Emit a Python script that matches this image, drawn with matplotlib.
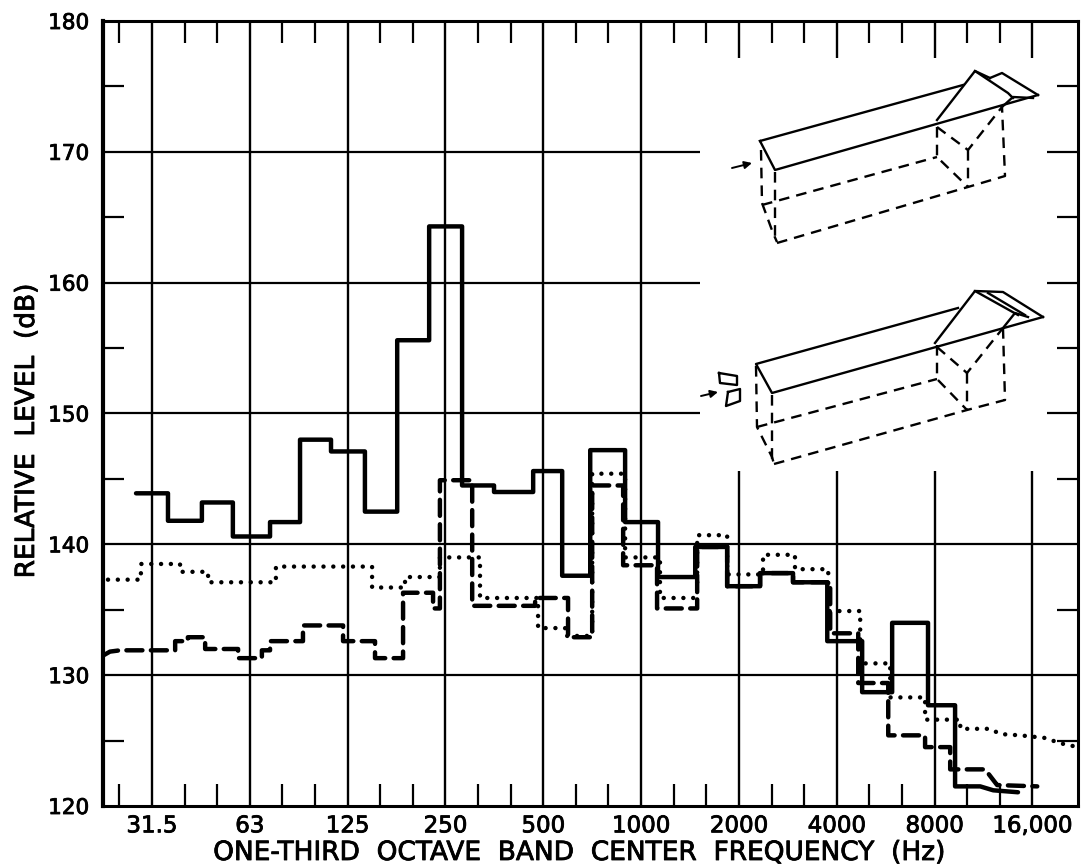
import numpy as np
import matplotlib
matplotlib.use('Agg')
import matplotlib.pyplot as plt
import matplotlib.patheffects as pe

# Полосы нумеруются от 31.5 Гц (индекс 0), три полосы на октаву
band_labels = ['31.5', '63', '125', '250', '500', '1000', '2000', '4000', '8000', '16,000']
band_ticks = [0, 3, 6, 9, 12, 15, 18, 21, 24, 27]
db_ticks = [120, 130, 140, 150, 160, 170, 180]

# Сплошная кривая
solid_edges = [-0.49, 0.49, 1.53, 2.48, 3.62, 4.54, 5.49, 6.53, 7.52, 8.50, 9.51, 10.49, 11.69, 12.58,
               13.44, 14.51, 15.52, 16.66, 17.64, 18.65, 19.66, 20.71, 21.78, 22.70, 23.80, 24.63, 25.4]
solid_levels = [143.9, 141.8, 143.2, 140.6, 141.7, 148.0, 147.1, 142.5, 155.6, 164.3, 144.5, 144.0, 145.6,
                137.6, 147.2, 141.7, 137.5, 139.8, 136.8, 137.8, 137.1, 132.6, 128.7, 134.0, 127.7, 121.5]
solid_tail_x = [25.8, 26.56]
solid_tail_y = [121.2, 121.05]

# Штриховая кривая
dash_lead_x = [-1.50, -1.29]
dash_lead_y = [131.5, 131.8]
dash_edges = [-0.98, 0.71, 1.10, 1.63, 2.64, 3.37, 3.62, 4.63, 5.86, 6.84, 7.70, 8.62, 8.83, 9.82, 11.75,
              12.76, 13.50, 14.45, 15.49, 16.72, 17.64, 18.65, 19.66, 20.80, 21.66, 22.58, 23.71, 24.48, 25.55]
dash_levels = [131.9, 132.6, 132.9, 132.0, 131.3, 131.9, 132.6, 133.8, 132.6, 131.3, 136.3, 135.1, 144.9,
               135.3, 135.9, 132.9, 144.5, 138.4, 135.1, 139.8, 136.8, 137.8, 137.1, 133.2, 129.4, 125.4,
               124.5, 122.8]
dash_tail_x = [25.92, 27.15]
dash_tail_y = [121.6, 121.5]

# Точечная кривая
dot_edges = [-1.35, -0.34, 0.86, 1.72, 3.80, 6.75, 7.76, 8.83, 10.06, 11.84, 12.67, 13.50, 14.51, 15.58,
             16.72, 17.64, 18.74, 19.72, 20.74, 21.72, 22.64, 23.71, 24.79]
dot_levels = [137.3, 138.5, 137.9, 137.1, 138.3, 136.7, 137.5, 139.0, 135.9, 133.6, 133.0, 145.4, 139.0,
              135.9, 140.7, 137.7, 139.2, 138.1, 134.9, 130.9, 128.3, 126.6]
dot_tail_x = [24.79, 25.71, 26.01, 26.63, 27.39, 27.85, 28.40]
dot_tail_y = [125.9, 125.9, 125.5, 125.4, 125.2, 124.8, 124.5]


def steps(edges, levels):
    # ступенчатая линия по границам полос
    x = np.repeat(edges, 2)[1:-1]
    y = np.repeat(levels, 2)
    return x, y


# Схема модели, в пикселях картинки
top_solid = [
    [(760, 141), (775, 170), (1038, 95)],
    [(760, 141), (963, 85)],
    [(937, 120), (975, 71), (1008, 93), (1013, 98)],
    [(990, 78), (1002, 73), (1038, 95)],
    [(975, 71), (990, 78)],
    [(1002, 107), (1013, 97), (1033, 98)],
]
top_dashed = [
    [(761, 150), (762, 203), (773, 233), (777, 242)],
    [(775, 172), (775, 242)],
    [(762, 205), (937, 157)],
    [(777, 243), (968, 187), (1005, 176), (1002, 107)],
    [(937, 127), (937, 157), (968, 187)],
    [(937, 127), (968, 150), (1002, 107)],
    [(968, 150), (968, 187)],
]
bottom_solid = [
    [(958, 308), (756, 364), (772, 393), (1043, 317)],
    [(935, 343), (975, 291), (1018, 315)],
    [(975, 291), (1003, 292), (1043, 317)],
    [(988, 293), (1025, 315)],
    [(1003, 328), (1015, 313), (1028, 317)],
    [(719, 373), (737, 376), (737, 385), (720, 383), (719, 373)],
    [(728, 392), (740, 389), (740, 401), (726, 406), (728, 392)],
]
bottom_dashed = [
    [(756, 366), (757, 427), (772, 457), (774, 464)],
    [(772, 395), (772, 460)],
    [(757, 427), (937, 379)],
    [(774, 464), (967, 410), (1005, 400), (1003, 328)],
    [(937, 345), (937, 379), (967, 410)],
    [(937, 347), (967, 373), (1003, 328)],
    [(967, 373), (967, 410)],
]
arrows = [[(732, 168), (752, 163)], [(701, 396), (718, 392)]]

fig = plt.figure(figsize=(10.82, 8.65), dpi=100)
ax = fig.add_axes([103 / 1082, 1 - 806 / 865, 975 / 1082, 785 / 865])
x0, x1 = -1.503, 28.40
ax.set_xlim(x0, x1)
ax.set_ylim(120, 180)

# Сетка: верхняя часть справа оставлена под схему
for b in band_ticks:
    if b <= 15:
        ax.vlines(b, 120, 180, color='black', lw=1.7)
    else:
        ax.vlines(b, 120, 145.6, color='black', lw=1.7)
        ax.vlines(b, 177.2, 180, color='black', lw=1.7)
for d in [130, 140]:
    ax.hlines(d, x0, x1, color='black', lw=1.6)
for d in [150, 160, 170]:
    ax.hlines(d, x0, 16.8, color='black', lw=1.6)
    ax.hlines(d, 27.45, x1, color='black', lw=1.6)

x, y = steps(solid_edges, solid_levels)
ax.plot(np.r_[x, solid_tail_x], np.r_[y, solid_tail_y], color='black', lw=3.2,
        solid_joinstyle='round', solid_capstyle='round')
x, y = steps(dash_edges, dash_levels)
ax.plot(np.r_[dash_lead_x, x, dash_tail_x], np.r_[dash_lead_y, y, dash_tail_y], color='black', lw=3.2,
        linestyle=(0, (3.6, 1.9)), dash_joinstyle='round', dash_capstyle='round')
x, y = steps(dot_edges, dot_levels)
ax.plot(np.r_[x, dot_tail_x], np.r_[y, dot_tail_y], color='black', lw=3.2,
        linestyle=(0, (0.01, 2.2)), dash_capstyle='round')

bold = [pe.withStroke(linewidth=0.6, foreground='black')]
ax.set_xticks(band_ticks)
ax.set_xticklabels(band_labels, fontsize=16.5, path_effects=bold)
ax.set_yticks(db_ticks)
ax.set_yticklabels([str(d) for d in db_ticks], fontsize=15.5, path_effects=bold)
minor_x = [b for b in range(-1, 28) if b not in band_ticks]
ax.set_xticks(minor_x, minor=True)
ax.set_yticks(np.arange(125, 180, 10), minor=True)
ax.tick_params(axis='x', which='major', length=0, pad=6)
ax.tick_params(axis='y', which='major', length=0, pad=10)
ax.tick_params(axis='x', which='minor', direction='in', top=True, bottom=True, length=16, width=1.6)
ax.tick_params(axis='y', which='minor', direction='in', left=True, right=True, length=15, width=1.6)
for s in ax.spines.values():
    s.set_linewidth(2.2)
ax.spines['left'].set_linewidth(3.0)

# Накладная ось в пикселях для подписей и схемы
ov = fig.add_axes([0, 0, 1, 1])
ov.set_xlim(0, 1082)
ov.set_ylim(865, 0)
ov.axis('off')
ov.patch.set_alpha(0)

for lines, ls in [(top_solid, '-'), (bottom_solid, '-'), (top_dashed, (0, (4.5, 3))), (bottom_dashed, (0, (4.5, 3)))]:
    for line in lines:
        p = np.array(line)
        ov.plot(p[:, 0], p[:, 1], color='black', lw=1.7, linestyle=ls)
for a in arrows:
    ov.annotate('', xy=a[1], xytext=a[0],
                arrowprops=dict(arrowstyle='-|>', color='black', lw=1.4, mutation_scale=11, shrinkA=0, shrinkB=0))

ov.text(27, 431, 'RELATIVE  LEVEL  (dB)', rotation=90, ha='center', va='center', fontsize=19, path_effects=bold)
ov.text(579, 853, 'ONE-THIRD  OCTAVE  BAND  CENTER  FREQUENCY  (Hz)', ha='center', va='center', fontsize=19,
        path_effects=bold)

fig.savefig('out.png', dpi=100)
